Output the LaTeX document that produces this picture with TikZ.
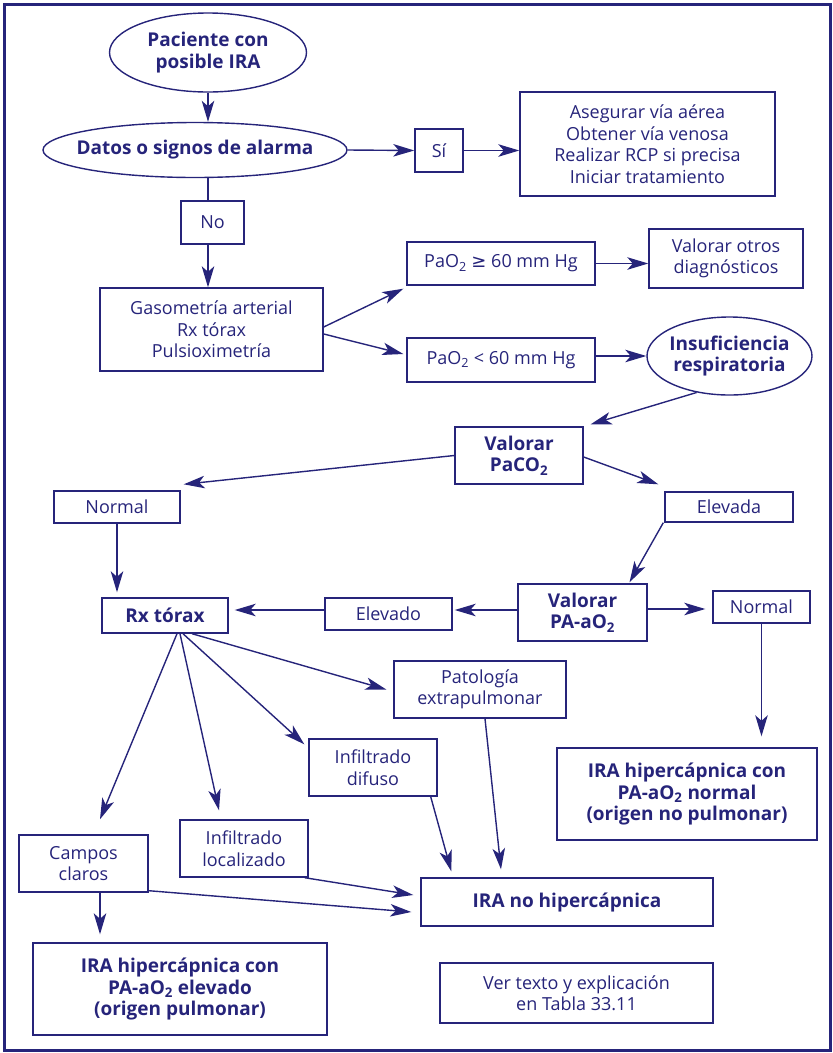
\documentclass[tikz,border=0pt]{standalone}
\usepackage{fontspec}
\setmainfont{Open Sans}
\newfontfamily\symfont{DejaVu Sans}
\usetikzlibrary{shapes.geometric,arrows.meta,calc}
\definecolor{navy}{RGB}{38,36,122}
\begin{document}
\begin{tikzpicture}[x=1pt,y=-1pt,
  every node/.style={text=navy, font=\fontsize{18}{21.5}\selectfont, align=center, inner sep=0pt},
  box/.style={draw=navy, line width=1.4pt, rectangle},
  bbox/.style={box, font=\fontsize{19}{21.7}\selectfont\bfseries},
  ell/.style={draw=navy, line width=1.4pt, ellipse, font=\fontsize{19}{21.7}\selectfont\bfseries},
  arr/.style={draw=navy, line width=1.4pt, -{Stealth[length=21pt,width=12.5pt,inset=5.5pt]}},
  ln/.style={draw=navy, line width=1.4pt}]
\useasboundingbox (0,0) rectangle (833,1053);
\draw[navy, line width=3pt] (4,4) rectangle (830,1050);

\node[ell, minimum width=197, minimum height=79] (pac) at (208,52.5) {\makebox[0pt][c]{Paciente con}\\\makebox[0pt][c]{posible IRA}};
\node[ell, minimum width=304, minimum height=55] (dat) at (195,150) {\makebox[0pt][c]{Datos o signos de alarma}};
\node[box, minimum width=63, minimum height=43] (no) at (212.5,222.5) {No};
\node[box, minimum width=223, minimum height=83] (gas) at (211.5,329.5) {Gasometría arterial\\Rx tórax\\Pulsioximetría};
\node[box, minimum width=48, minimum height=43] (si) at (439,150.5) {Sí};
\node[box, minimum width=255, minimum height=104] (act) at (647.5,144) {Asegurar vía aérea\\Obtener vía venosa\\Realizar RCP si precisa\\Iniciar tratamiento};
\node[box, minimum width=188, minimum height=43] (geq) at (501,263.5) {PaO\textsubscript{2} {\symfont ≥} 60 mm Hg};
\node[box, minimum width=154, minimum height=59] (oth) at (726,258.5) {Valorar otros\\diagnósticos};
\node[box, minimum width=188, minimum height=44] (lt) at (501,360) {PaO\textsubscript{2} < 60 mm Hg};
\node[ell, minimum width=165, minimum height=78] (ins) at (729.5,356) {\makebox[0pt][c]{Insuficiencia}\\\makebox[0pt][c]{respiratoria}};
\node[bbox, minimum width=128, minimum height=57] (paco) at (519,455.5) {Valorar\\PaCO\textsubscript{2}};
\node[box, minimum width=126, minimum height=32] (nl) at (117,507) {Normal};
\node[box, minimum width=128, minimum height=30] (el) at (729,507) {Elevada};
\node[bbox, minimum width=126, minimum height=35] (rx) at (165,615.5) {Rx tórax};
\node[box, minimum width=127, minimum height=32] (elo) at (388.5,614) {Elevado};
\node[bbox, minimum width=129, minimum height=57] (pa) at (582.5,612.5) {Valorar\\PA-aO\textsubscript{2}};
\node[box, minimum width=97, minimum height=32] (nr) at (761.5,607) {Normal};
\node[bbox, minimum width=260, minimum height=92] (hn) at (687,794) {IRA hipercápnica con\\PA-aO\textsubscript{2} normal\\(origen no pulmonar)};
\node[box, minimum width=172, minimum height=57] (pat) at (480,689.5) {Patología\\extrapulmonar};
\node[box, minimum width=128, minimum height=57] (idf) at (373,767.5) {Infiltrado\\difuso};
\node[box, minimum width=128, minimum height=57] (il) at (244,848.5) {Infiltrado\\localizado};
\node[box, minimum width=129, minimum height=57] (cc) at (83.5,863.5) {Campos\\claros};
\node[bbox, minimum width=292, minimum height=48] (nh) at (567,902) {IRA no hipercápnica};
\node[bbox, minimum width=294, minimum height=92] (he) at (180,989) {IRA hipercápnica con\\PA-aO\textsubscript{2} elevado\\(origen pulmonar)};
\node[box, minimum width=273, minimum height=60] (ver) at (576.5,993) {Ver texto y explicación\\en Tabla 33.11};

\draw[arr] (pac.south) -- (pac.south |- dat.north);
\draw[ln] (pac.south |- dat.south) -- (pac.south |- no.north);
\draw[arr] (pac.south |- no.south) -- (pac.south |- gas.north);
\draw[arr] (dat.east) -- (si.west);
\draw[arr] (si.east) -- (si.east -| act.west);
\draw[arr] ($(gas.east)+(0,-2.5)$) -- ($(geq.south west)+(-3,3)$);
\draw[arr] ($(gas.east)+(0,4.5)$) -- ($(lt.west)+(-3,-6)$);
\draw[arr] (geq.east) -- (geq.east -| oth.west);
\draw[arr] (ins.west -| lt.east) -- (ins.west);
\draw[arr] (ins.228) -- ($(paco.north east)+(7,-2)$);
\draw[arr] (paco.west) -- ($(nl.north east)+(3,-6)$);
\draw[arr] ($(paco.east)+(0,1.5)$) -- ($(el.north west)+(-6,-7)$);
\draw[arr] (nl.south) -- ($(nl.south |- rx.north)+(0,-5)$);
\draw[arr] ($(el.south west)+(-1,0)$) -- ($(pa.north)+(47,-1)$);
\draw[arr] ($(pa.west)+(0,-2.5)$) -- ($(elo.east |- pa.west)+(2,-2.5)$);
\draw[arr] ($(elo.west)+(0,-4)$) -- ($(rx.east)+(6,-5.5)$);
\draw[arr] ($(pa.east)+(0,-3.5)$) -- ($(nr.west)+(-7,2)$);
\draw[arr] (nr.south) -- ($(nr.south |- hn.north)+(0,-11)$);
\draw[arr] ($(rx.south)+(12,0)$) -- ($(cc.north)+(16.5,-15)$);
\draw[arr] ($(rx.south)+(15,0)$) -- ($(il.north)+(-25,-9)$);
\draw[arr] ($(rx.south)+(18,0)$) -- ($(idf.north west)+(-4,6)$);
\draw[arr] ($(rx.south)+(27,0)$) -- ($(pat.west)+(-7,0)$);
\draw[arr] ($(pat.south)+(5,0)$) -- ($(nh.north)+(-66,-8)$);
\draw[arr] ($(idf.south east)+(-7,0)$) -- ($(nh.north west)+(31,-6)$);
\draw[arr] ($(il.south east)+(-4,0)$) -- ($(nh.west)+(-7,-7)$);
\draw[arr] ($(cc.south east)+(0,-2)$) -- ($(nh.west)+(-9,10)$);
\draw[arr] ($(cc.south)+(16.5,0)$) -- ($(cc.south |- he.north)+(16.5,-8)$);
\end{tikzpicture}
\end{document}
